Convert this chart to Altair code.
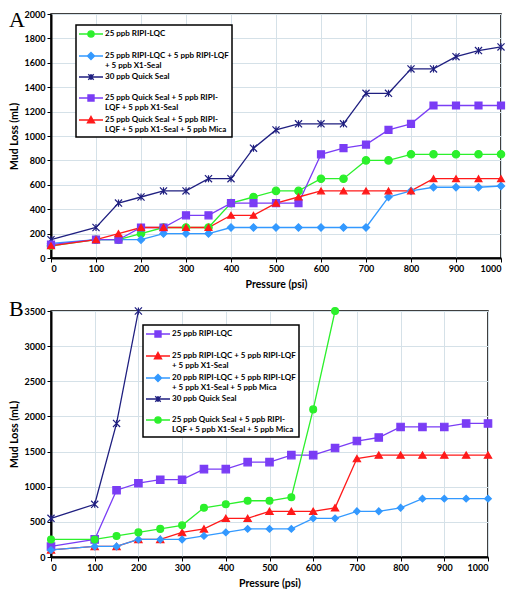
import altair as alt
import pandas as pd

pressure = [0, 100, 150, 200, 250, 300, 350, 400, 450, 500, 550, 600, 650, 700, 750, 800, 850, 900, 950, 1000]

GREEN = "#2cf02c"
BLUE = "#3399ff"
NAVY = "#1f1f80"
PURPLE = "#7a3df5"
RED = "#ff1a1a"

# ---------- Panel A ----------
a_names = [
    "25 ppb RIPI-LQC|",
    "25 ppb RIPI-LQC + 5 ppb RIPI-LQF|+ 5 ppb X1-Seal",
    "30 ppb Quick Seal|",
    "25 ppb Quick Seal + 5 ppb RIPI-|LQF + 5 ppb X1-Seal",
    "25 ppb Quick Seal + 5 ppb RIPI-|LQF + 5 ppb X1-Seal + 5 ppb Mica",
]
a_green = [100, 150, 150, 200, 250, 250, 250, 450, 500, 550, 550, 650, 650, 800, 800, 850, 850, 850, 850, 850]
a_blue = [120, 150, 150, 150, 200, 200, 200, 250, 250, 250, 250, 250, 250, 250, 500, 550, 580, 580, 580, 590]
a_navy = [150, 250, 450, 500, 550, 550, 650, 650, 900, 1050, 1100, 1100, 1100, 1350, 1350, 1550, 1550, 1650, 1700, 1730]
a_purple = [110, 150, 150, 250, 250, 350, 350, 450, 450, 450, 450, 850, 900, 930, 1050, 1100, 1250, 1250, 1250, 1250]
a_red = [100, 150, 200, 250, 250, 250, 250, 350, 350, 450, 500, 550, 550, 550, 550, 550, 650, 650, 650, 650]
a_values = [a_green, a_blue, a_navy, a_purple, a_red]
a_colors = [GREEN, BLUE, NAVY, PURPLE, RED]
a_kinds = ["circle", "diamond", "star", "square", "triangle"]

# ---------- Panel B ----------
b_names = [
    "25 ppb RIPI-LQC|",
    "25 ppb RIPI-LQC + 5 ppb RIPI-LQF|+ 5 ppb X1-Seal",
    "20 ppb RIPI-LQC + 5 ppb RIPI-LQF|+ 5 ppb X1-Seal + 5 ppb Mica",
    "30 ppb Quick Seal|",
    "25 ppb Quick Seal + 5 ppb RIPI-|LQF + 5 ppb X1-Seal + 5 ppb Mica",
]
b_purple = [150, 250, 950, 1050, 1100, 1100, 1250, 1250, 1350, 1350, 1450, 1450, 1550, 1650, 1700, 1850, 1850, 1850, 1900, 1900]
b_red = [100, 150, 150, 250, 250, 350, 400, 550, 550, 650, 650, 650, 700, 1400, 1450, 1450, 1450, 1450, 1450, 1450]
b_blue = [100, 150, 150, 250, 250, 250, 300, 350, 400, 400, 400, 550, 550, 650, 650, 700, 830, 830, 830, 830]
b_navy = [550, 750, 1900, 3500]
b_green = [250, 250, 300, 350, 400, 450, 700, 750, 800, 800, 850, 2100, 3500]
b_values = [b_purple, b_red, b_blue, b_navy, b_green]
b_colors = [PURPLE, RED, BLUE, NAVY, GREEN]
b_kinds = ["square", "triangle", "diamond", "star", "circle"]

PLOT_SHAPE = {
    "circle": "circle",
    "diamond": "diamond",
    "square": "square",
    "triangle": "triangle-up",
    "star": "M-1,-1L1,1M-1,1L1,-1M0,-1L0,1",
}
PLOT_SIZE = {"circle": 55, "diamond": 45, "square": 60, "triangle": 70, "star": 55}
# legend symbols: unit = 5px (symbol size 100)
LEG_MARK = {
    "circle": "M-0.62,0A0.62,0.62,0,1,1,0.62,0A0.62,0.62,0,1,1,-0.62,0Z",
    "diamond": "M-0.7,0L0,-0.7L0.7,0L0,0.7Z",
    "square": "M-0.6,-0.6L0.6,-0.6L0.6,0.6L-0.6,0.6Z",
    "triangle": "M0,-0.7L0.7,0.55L-0.7,0.55Z",
    "star": "M-0.55,-0.55L0.55,0.55M-0.55,0.55L0.55,-0.55M0,-0.62L0,0.62",
}
LEG_LINE = "M-2.4,0L2.4,0"

FONT = "Lato"


def panel(names, values, colors, kinds, ymax, ystep, width, height, letter, lx, ly, tdy):
    rows = []
    for i, (name, vals) in enumerate(zip(names, values)):
        for p, v in zip(pressure, vals):
            rows.append({"series": name, "pressure": p, "loss": v, "k": i})
    df = pd.DataFrame(rows)

    xenc = alt.X("pressure:Q", scale=alt.Scale(domain=[0, 1000], nice=False),
                 axis=alt.Axis(values=list(range(0, 1001, 100)), format="d", title="Pressure (psi)"))
    yenc = alt.Y("loss:Q", scale=alt.Scale(domain=[0, ymax], nice=False),
                 axis=alt.Axis(values=list(range(0, ymax + 1, ystep)), format="d", title="Mud Loss (mL)"))
    cscale = alt.Scale(domain=names, range=colors)

    lines = alt.Chart(df).mark_line(strokeWidth=1.3).encode(
        x=xenc, y=yenc,
        color=alt.Color("series:N", scale=cscale, legend=None),
        detail="series:N",
    )
    points = alt.Chart(df).mark_point(filled=True, opacity=1, strokeWidth=1.2).encode(
        x=xenc, y=yenc,
        color=alt.Color("series:N", scale=cscale, legend=None),
        stroke=alt.Stroke("series:N", scale=cscale, legend=None),
        shape=alt.Shape("series:N", scale=alt.Scale(domain=names, range=[PLOT_SHAPE[k] for k in kinds]), legend=None),
        size=alt.Size("series:N", scale=alt.Scale(domain=names, range=[PLOT_SIZE[k] for k in kinds]), legend=None),
        order=alt.Order("k:Q"),
    )
    leg = alt.Legend(
        orient="none", legendX=lx, legendY=ly, title=None,
        labelExpr="split(datum.label, '|')",
        labelFont=FONT, labelFontSize=8, labelFontWeight="bold", labelColor="black",
        labelLimit=400, labelOffset=8, labelBaseline="middle",
        symbolSize=100, symbolOffset=6, symbolStrokeWidth=1.4, symbolOpacity=1,
        strokeColor="black", fillColor="white", padding=3, rowPadding=1,
    )
    legend_layer = alt.Chart(df).transform_filter("false").mark_point(filled=True, size=100).encode(
        x=xenc, y=yenc,
        color=alt.Color("series:N", scale=cscale, legend=leg),
        stroke=alt.Stroke("series:N", scale=cscale, legend=leg),
        shape=alt.Shape("series:N", scale=alt.Scale(domain=names, range=[LEG_LINE + LEG_MARK[k] for k in kinds]), legend=leg),
    )
    return alt.layer(lines, points, legend_layer).resolve_scale(
        color="independent", stroke="independent", shape="independent"
    ).properties(
        width=width, height=height,
        title=alt.TitleParams(letter, anchor="start", frame="bounds", font="Liberation Serif",
                              fontSize=22, fontWeight="normal", color="black", dy=tdy, offset=0),
    )


top = panel(a_names, a_values, a_colors, a_kinds, 2000, 200, 450, 244, "A", 25, 11, 22)
bottom = panel(b_names, b_values, b_colors, b_kinds, 3500, 500, 437, 246, "B", 92, 14, 16)

chart = alt.vconcat(top, bottom, spacing=6).properties(
    padding={"left": 0, "top": 0, "right": 0, "bottom": 0}
).configure_axis(
    labelFont=FONT, labelFontSize=9, labelFontWeight="bold", labelColor="black",
    titleFont=FONT, titleFontSize=10.5, titleFontWeight="bold", titleColor="black",
    domainColor="black", domainWidth=2, tickColor="black", tickSize=4, tickWidth=1,
    gridColor="#d5e1e8", gridWidth=1, labelPadding=2,
).configure_axisY(titlePadding=5).configure_axisX(titlePadding=6).configure_view(
    stroke="black", strokeWidth=1.5
).configure_legend(strokeWidth=1.5)

chart.save("out.html", embed_options={"renderer": "svg", "actions": False})
